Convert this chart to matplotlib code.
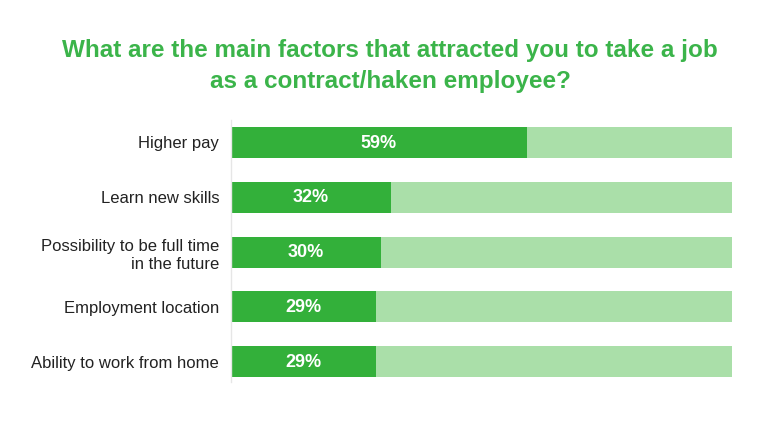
import matplotlib
matplotlib.use("Agg")
import matplotlib.pyplot as plt

categories = ["Higher pay", "Learn new skills",
              "Possibility to be full time\nin the future",
              "Employment location", "Ability to work from home"]
values = [59, 32, 30, 29, 29]
total = 100

dark_green = "#33b03a"
light_green = "#aadfa9"
title_green = "#3bb44a"

plt.rcParams['font.family'] = ['Liberation Sans', 'DejaVu Sans']

fig = plt.figure(figsize=(7.68, 4.37), dpi=100)
ax = fig.add_axes([231 / 768, 1 - 382 / 437, 501 / 768, 262 / 437])

ypos = list(range(len(categories)))
ax.barh(ypos, [total] * len(values), height=0.566, color=light_green, zorder=1)
ax.barh(ypos, values, height=0.566, color=dark_green, zorder=2)

for y, v in zip(ypos, values):
    ax.text(v / 2, y + 0.01, f"{v}%", ha="center", va="center", color="white",
            fontsize=13, fontweight="bold", zorder=3)

ax.set_xlim(0, total)
ax.set_ylim(4.37, -0.41)
ax.set_yticks(ypos)
ax.set_yticklabels(categories, fontsize=12, color="#222222", linespacing=1.3)
ax.tick_params(axis="y", length=0, pad=8.5)
ax.set_xticks([])
for s in ["top", "right", "bottom"]:
    ax.spines[s].set_visible(False)
ax.spines["left"].set_color("#e6e6e6")
ax.spines["left"].set_linewidth(1)

fig.text(0.508, 1 - 66 / 437,
         "What are the main factors that attracted you to take a job\nas a contract/haken employee?",
         ha="center", va="center", color=title_green, fontsize=17.5,
         fontweight="bold", linespacing=1.45)

fig.savefig("out.png", dpi=100)
